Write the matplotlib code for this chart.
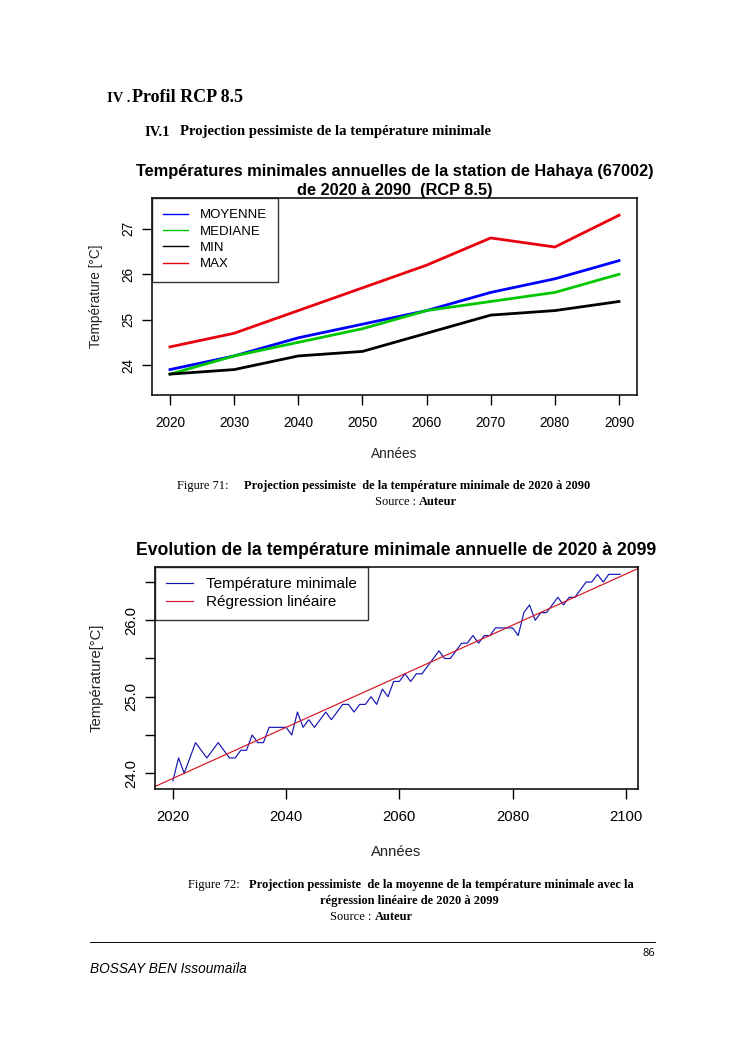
import matplotlib
matplotlib.use("Agg")
import matplotlib.pyplot as plt
import numpy as np

# ---------------- data ----------------
decades = [2020, 2030, 2040, 2050, 2060, 2070, 2080, 2090]
moyenne = [23.9, 24.2, 24.6, 24.9, 25.2, 25.6, 25.9, 26.3]
mediane = [23.8, 24.2, 24.5, 24.8, 25.2, 25.4, 25.6, 26.0]
tmin = [23.8, 23.9, 24.2, 24.3, 24.7, 25.1, 25.2, 25.4]
tmax = [24.4, 24.7, 25.2, 25.7, 26.2, 26.8, 26.6, 27.3]
top_series = ["MOYENNE", "MEDIANE", "MIN", "MAX"]
top_yticks = [24, 25, 26, 27]

years = list(range(2020, 2100))
tmin_annual = [
    23.9, 24.2, 24.0, 24.2, 24.4, 24.3, 24.2, 24.3, 24.4, 24.3,
    24.2, 24.2, 24.3, 24.3, 24.5, 24.4, 24.4, 24.6, 24.6, 24.6,
    24.6, 24.5, 24.8, 24.6, 24.7, 24.6, 24.7, 24.8, 24.7, 24.8,
    24.9, 24.9, 24.8, 24.9, 24.9, 25.0, 24.9, 25.1, 25.0, 25.2,
    25.2, 25.3, 25.2, 25.3, 25.3, 25.4, 25.5, 25.6, 25.5, 25.5,
    25.6, 25.7, 25.7, 25.8, 25.7, 25.8, 25.8, 25.9, 25.9, 25.9,
    25.9, 25.8, 26.1, 26.2, 26.0, 26.1, 26.1, 26.2, 26.3, 26.2,
    26.3, 26.3, 26.4, 26.5, 26.5, 26.6, 26.5, 26.6, 26.6, 26.6,
]
bottom_series = ["Température minimale", "Régression linéaire"]
bottom_xticks = [2020, 2040, 2060, 2080, 2100]
bottom_yticks = [24.0, 24.5, 25.0, 25.5, 26.0, 26.5]
bottom_ylabels = ["24.0", "", "25.0", "", "26.0", ""]

# ---------------- figure ----------------
W, H = 745, 1053
fig = plt.figure(figsize=(W / 100, H / 100), dpi=100)
fig.patch.set_facecolor("white")

SANS = "Liberation Sans"
SERIF = "Liberation Serif"


def fx(x):
    return x / W


def fy(y):
    return 1 - y / H


def axes_px(l, t, r, b):
    return [fx(l), fy(b), (r - l) / W, (b - t) / H]


def pieces(x, y, items, size, family=SERIF, va="center"):
    """Draw consecutive text pieces starting at pixel x."""
    r = fig.canvas.get_renderer()
    cur = x
    for txt, weight in items:
        t = fig.text(fx(cur), fy(y), txt, fontsize=size, family=family,
                     fontweight=weight, ha="left", va=va)
        bb = t.get_window_extent(renderer=r)
        cur += bb.width


def style_axes(ax, lw=1.1):
    for s in ax.spines.values():
        s.set_linewidth(lw)
        s.set_color("black")
    ax.tick_params(direction="out", length=7, width=1.0, color="black")


# ---------- document header ----------
pieces(107, 99, [("IV . ", "bold")], 10.5)
pieces(132, 98, [("Profil RCP 8.5", "bold")], 13.0)
pieces(144, 132, [("IV.1", "bold")], 10.6)
pieces(180, 132, [("Projection pessimiste de la température minimale", "bold")], 10.6)

# ---------- top chart ----------
ax1 = fig.add_axes(axes_px(152, 198, 637, 395))
ax1.plot(decades, moyenne, color="#0000ff", lw=2.0, label=top_series[0])
ax1.plot(decades, mediane, color="#00c800", lw=2.0, label=top_series[1])
ax1.plot(decades, tmin, color="black", lw=2.0, label=top_series[2])
ax1.plot(decades, tmax, color="#e8000e", lw=2.0, label=top_series[3])
ax1.set_xlim(2017.2, 2092.8)
ax1.set_ylim(23.34, 27.68)
ax1.set_xticks(decades)
ax1.set_xticklabels([str(d) for d in decades], fontsize=9.8, family=SANS)
ax1.set_yticks(top_yticks)
ax1.set_yticklabels([str(v) for v in top_yticks], fontsize=9.8, family=SANS,
                    rotation=90, va="center")
style_axes(ax1)
ax1.tick_params(axis="x", pad=8)
ax1.tick_params(axis="y", pad=5)
ax1.set_xlabel("Années", fontsize=9.8, family=SANS, labelpad=12, color="#222222")
ax1.set_ylabel("Température [°C]", fontsize=9.8, family=SANS, labelpad=13, color="#222222")
ax1.set_title("Températures minimales annuelles de la station de Hahaya (67002)\n"
              "de 2020 à 2090  (RCP 8.5)", fontsize=11.8, family=SANS,
              fontweight="bold", pad=2.5, linespacing=1.3)
leg1 = ax1.legend(loc="upper left", bbox_to_anchor=(0, 1), borderaxespad=0,
                  fancybox=False, frameon=True, prop={"family": SANS, "size": 9.5},
                  handlelength=1.9, handletextpad=0.85, labelspacing=0.31,
                  borderpad=0.85)
leg1.get_frame().set_edgecolor("black")
leg1.get_frame().set_linewidth(1.0)
for ln in leg1.get_lines():
    ln.set_linewidth(1.0)

# caption 71
pieces(177, 486, [("Figure 71:", "normal")], 8.9)
pieces(244, 486, [("Projection pessimiste  de la température minimale de 2020 à 2090", "bold")], 8.9)
pieces(375, 502, [("Source : ", "normal"), ("Auteur", "bold")], 8.9)

# ---------- bottom chart ----------
ax2 = fig.add_axes(axes_px(155, 566.7, 638, 789.3))
ax2.plot(years, tmin_annual, color="#1414b4", lw=0.85, label=bottom_series[0])
coef = np.polyfit(years, tmin_annual, 1)
ax2.set_xlim(2016.84, 2102.16)
ax2.set_ylim(23.79, 26.70)
xl = np.array(ax2.get_xlim())
ax2.plot(xl, np.polyval(coef, xl), color="#d41424", lw=0.85, label=bottom_series[1])
ax2.set_xlim(2016.84, 2102.16)
ax2.set_xticks(bottom_xticks)
ax2.set_xticklabels([str(v) for v in bottom_xticks], fontsize=10.7, family=SANS)
ax2.set_yticks(bottom_yticks)
ax2.set_yticklabels(bottom_ylabels, fontsize=10.7, family=SANS, rotation=90, va="center")
style_axes(ax2)
ax2.tick_params(axis="x", pad=8)
ax2.tick_params(axis="y", pad=5)
ax2.set_xlabel("Années", fontsize=10.7, family=SANS, labelpad=15, color="#222222")
ax2.set_ylabel("Température[°C]", fontsize=10.7, family=SANS, labelpad=15, color="#222222")
ax2.set_title("Evolution de la température minimale annuelle de 2020 à 2099",
              fontsize=12.7, family=SANS, fontweight="bold", pad=8.5)
leg2 = ax2.legend(loc="upper left", bbox_to_anchor=(0, 1), borderaxespad=0,
                  fancybox=False, frameon=True, prop={"family": SANS, "size": 11.0},
                  handlelength=1.8, handletextpad=0.85, labelspacing=0.25,
                  borderpad=0.7)
leg2.get_frame().set_edgecolor("black")
leg2.get_frame().set_linewidth(1.0)

# caption 72
pieces(188, 885, [("Figure 72:", "normal")], 9.0)
pieces(249, 885, [("Projection pessimiste  de la moyenne de la température minimale avec la", "bold")], 9.0)
fig.text(fx(409), fy(901), "régression linéaire de 2020 à 2099", fontsize=9.0, family=SERIF,
         fontweight="bold", ha="center", va="center")
pieces(330, 917, [("Source : ", "normal"), ("Auteur", "bold")], 9.0)

# footer
fig.add_artist(plt.Line2D([fx(90), fx(655)], [fy(942), fy(942)], color="black", lw=0.7))
fig.text(fx(655), fy(953), "86", fontsize=8.0, family="Open Sans", ha="right", va="center")
fig.text(fx(90), fy(969), "BOSSAY BEN Issoumaïla", fontsize=9.8, family=SANS,
         style="italic", ha="left", va="center")

fig.savefig("out.png", dpi=100, facecolor="white")
